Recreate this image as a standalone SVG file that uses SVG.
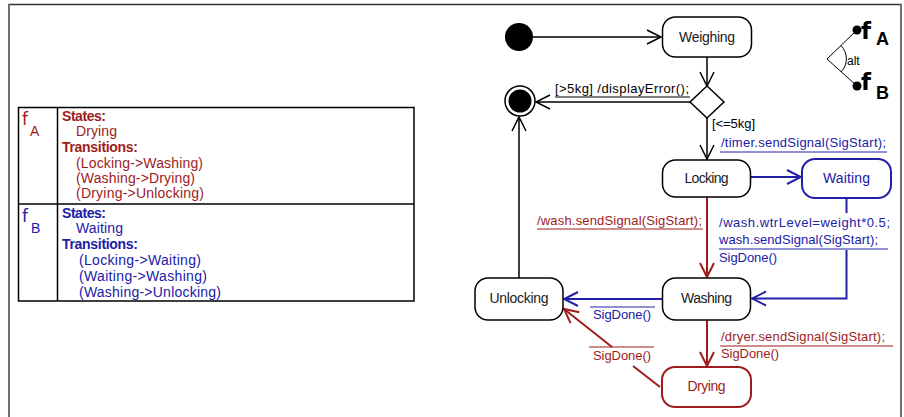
<svg xmlns="http://www.w3.org/2000/svg" width="904" height="417" viewBox="0 0 904 417">
<style>
text{font-family:"Liberation Sans",Arial,sans-serif;}
.lbl{font-size:13px;}
.st{font-size:14px;fill:#1a1a1a;text-anchor:middle;}
.red{fill:#9E1C1C;}
.blue{fill:#2020A6;}
.box{fill:#fff;stroke:#000;stroke-width:1.5;}
.lk{fill:none;stroke:#000;stroke-width:1.5;}
.lr{fill:none;stroke:#9E1C1C;stroke-width:2;}
.lb{fill:none;stroke:#2020A6;stroke-width:2;}
.ur{stroke:#9E1C1C;stroke-width:1;}
.ub{stroke:#2020A6;stroke-width:1;}
.uk{stroke:#000;stroke-width:1;}
.tb{font-size:14px;}
.b{font-weight:bold;}
.big{font-family:"DejaVu Sans",sans-serif;font-size:17px;}
.sub{font-size:14px;}
.lf{font-family:"DejaVu Sans",sans-serif;font-size:23px;font-weight:bold;}
.ls{font-size:18px;font-weight:bold;}
</style>
<defs>
<marker id="ak" markerUnits="userSpaceOnUse" markerWidth="18" markerHeight="18" viewBox="0 0 18 18" refX="16" refY="9" orient="auto"><path d="M2,2 L16,9 L2,16" fill="none" stroke="#000" stroke-width="1.5"/></marker>
<marker id="ar" markerUnits="userSpaceOnUse" markerWidth="18" markerHeight="18" viewBox="0 0 18 18" refX="16" refY="9" orient="auto"><path d="M2,2 L16,9 L2,16" fill="none" stroke="#9E1C1C" stroke-width="2"/></marker>
<marker id="ab" markerUnits="userSpaceOnUse" markerWidth="18" markerHeight="18" viewBox="0 0 18 18" refX="16" refY="9" orient="auto"><path d="M2,2 L16,9 L2,16" fill="none" stroke="#2020A6" stroke-width="2"/></marker>
</defs>
<rect x="0" y="0" width="904" height="417" fill="#fff"/>
<g id="frame">
<line x1="8" y1="4.5" x2="902" y2="4.5" stroke="#333" stroke-width="1.5"/>
<line x1="9" y1="4" x2="9" y2="417" stroke="#707070" stroke-width="2"/>
<line x1="901" y1="4" x2="901" y2="417" stroke="#707070" stroke-width="2"/>
</g>
<g id="table">
<rect x="18.5" y="107.5" width="395.5" height="193.5" fill="none" stroke="#000" stroke-width="1.5"/>
<line x1="57.5" y1="107.5" x2="57.5" y2="301" stroke="#000" stroke-width="1.5"/>
<line x1="18.5" y1="204" x2="414" y2="204" stroke="#000" stroke-width="1.5"/>
<g class="red">
<text class="big" x="22" y="125">f</text><text class="sub" x="30" y="136">A</text>
<text class="tb b" x="62" y="121" textLength="44">States:</text>
<text class="tb" x="76" y="136" textLength="41">Drying</text>
<text class="tb b" x="62" y="152" textLength="76">Transitions:</text>
<text class="tb" x="76" y="168" textLength="127">(Locking-&gt;Washing)</text>
<text class="tb" x="76" y="183" textLength="119">(Washing-&gt;Drying)</text>
<text class="tb" x="76" y="198" textLength="128">(Drying-&gt;Unlocking)</text>
</g>
<g class="blue">
<text class="big" x="22" y="222">f</text><text class="sub" x="31" y="233">B</text>
<text class="tb b" x="62" y="218" textLength="44">States:</text>
<text class="tb" x="76" y="233" textLength="47">Waiting</text>
<text class="tb b" x="62" y="249" textLength="76">Transitions:</text>
<text class="tb" x="79" y="265" textLength="122">(Locking-&gt;Waiting)</text>
<text class="tb" x="79" y="281" textLength="128">(Waiting-&gt;Washing)</text>
<text class="tb" x="79" y="297" textLength="142">(Washing-&gt;Unlocking)</text>
</g>
</g>
<g id="legend">
<line x1="857" y1="30" x2="827" y2="59" stroke="#000" stroke-width="1"/>
<line x1="827" y1="59" x2="857" y2="86" stroke="#000" stroke-width="1"/>
<circle cx="857" cy="30" r="4.5" fill="#000"/>
<circle cx="857" cy="86" r="4.5" fill="#000"/>
<path d="M841,45.5 A19,19 0 0 1 841,72" fill="none" stroke="#000" stroke-width="1"/>
<text x="847" y="65" font-size="12">alt</text>
<text class="lf" x="861" y="39">f</text><text class="ls" x="876" y="45">A</text>
<text class="lf" x="861" y="90">f</text><text class="ls" x="876" y="99">B</text>
</g>
<g id="connectors">
<path class="lk" d="M533,37 H661" marker-end="url(#ak)"/>
<path class="lk" d="M707,57 V86" marker-end="url(#ak)"/>
<path class="lk" d="M690,102 H536" marker-end="url(#ak)"/>
<path class="lk" d="M707,118 V159" marker-end="url(#ak)"/>
<path class="lk" d="M519,278 V117" marker-end="url(#ak)"/>
<path class="lb" d="M751,177 H801" marker-end="url(#ab)"/>
<path class="lr" d="M707,197 V277" marker-end="url(#ar)"/>
<path class="lb" d="M846.5,198 V213"/>
<path class="lb" d="M846.5,250 V298.5 H752" marker-end="url(#ab)"/>
<path class="lb" d="M662,299 H564" marker-end="url(#ab)"/>
<path class="lr" d="M707,320 V366" marker-end="url(#ar)"/>
<path class="lr" d="M660,387 L633,366"/>
<path class="lr" d="M612,347 L564,309" marker-end="url(#ar)"/>
</g>
<g id="labels">
<text class="lbl" x="555" y="93" textLength="134">[&gt;5kg] /displayError();</text>
<line class="uk" x1="555" y1="97" x2="690" y2="97"/>
<text class="lbl" x="712" y="128" textLength="43">[&lt;=5kg]</text>
<text class="lbl blue" x="721" y="147" textLength="165">/timer.sendSignal(SigStart);</text>
<line class="ub" x1="720" y1="152" x2="887" y2="152"/>
<text class="lbl red" x="537" y="225" textLength="165">/wash.sendSignal(SigStart);</text>
<line class="ur" x1="537" y1="229" x2="703" y2="229"/>
<text class="lbl blue" x="719" y="227" textLength="171">/wash.wtrLevel=weight*0.5;</text>
<text class="lbl blue" x="719" y="244" textLength="159">wash.sendSignal(SigStart);</text>
<line class="ub" x1="719" y1="249" x2="888" y2="249"/>
<text class="lbl blue" x="719" y="262" textLength="58">SigDone()</text>
<line class="ub" x1="590" y1="307" x2="655" y2="307"/>
<text class="lbl blue" x="593" y="319" textLength="58">SigDone()</text>
<text class="lbl red" x="721" y="341" textLength="164">/dryer.sendSignal(SigStart);</text>
<line class="ur" x1="720" y1="346" x2="893" y2="346"/>
<text class="lbl red" x="721" y="358" textLength="58">SigDone()</text>
<line class="ur" x1="589" y1="347" x2="654" y2="347"/>
<text class="lbl red" x="593" y="360" textLength="58">SigDone()</text>
</g>
<g id="initial"><circle cx="519" cy="37" r="14" fill="#000"/></g>
<g id="final"><circle cx="520" cy="101" r="15" fill="#fff" stroke="#000" stroke-width="1.5"/><circle cx="520" cy="101" r="11.5" fill="#000"/></g>
<g id="decision"><path d="M707,86 L724,102 L707,118 L690,102 Z" fill="#fff" stroke="#000" stroke-width="1.5"/></g>
<g id="weighing"><rect class="box" x="662.5" y="17" width="89" height="40" rx="13"/><text class="st" x="707" y="42" textLength="56">Weighing</text></g>
<g id="locking"><rect class="box" x="662.5" y="160" width="88" height="37" rx="13"/><text class="st" x="706.5" y="183" textLength="44">Locking</text></g>
<g id="waiting"><rect x="802" y="159" width="89" height="39" rx="13" fill="#fff" stroke="#2020A6" stroke-width="2"/><text class="st blue" x="846.5" y="183" textLength="47">Waiting</text></g>
<g id="washing"><rect class="box" x="662.5" y="278" width="88" height="42" rx="13"/><text class="st" x="706.5" y="303" textLength="51">Washing</text></g>
<g id="unlocking"><rect class="box" x="475" y="278" width="88" height="42" rx="13"/><text class="st" x="519" y="303" textLength="59">Unlocking</text></g>
<g id="drying"><rect x="662" y="367" width="89" height="40" rx="13" fill="#fff" stroke="#9E1C1C" stroke-width="2"/><text class="st red" x="706.5" y="391" textLength="38">Drying</text></g>
</svg>
